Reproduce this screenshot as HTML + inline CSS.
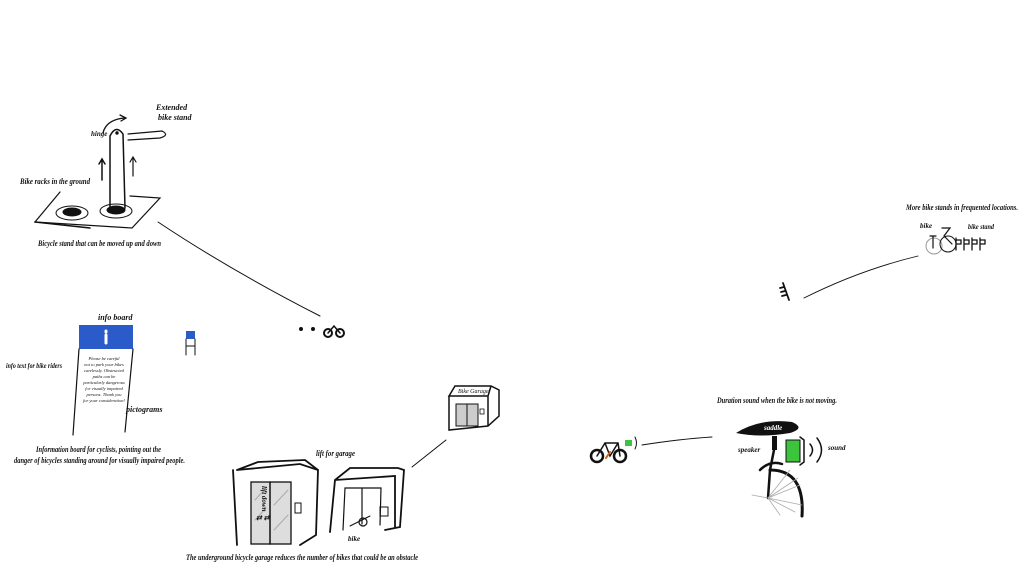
<!DOCTYPE html>
<html><head><meta charset="utf-8"><style>
html,body{margin:0;padding:0;background:#fff;width:1024px;height:576px;overflow:hidden}
svg text{font-family:"Liberation Serif",serif;font-style:italic;fill:#111;font-weight:bold}
</style></head><body>
<svg width="1024" height="576" viewBox="0 0 1024 576" xmlns="http://www.w3.org/2000/svg" fill="none" stroke="#111" stroke-linecap="round">
<!-- Bike stand sketch -->
<path d="M60 192 L35 222 L132 228 L160 198 L130 196" stroke-width="1.2"/>
<path d="M35 222 L90 228" stroke-width="1.5"/>
<ellipse cx="72" cy="213" rx="16" ry="7" stroke-width="1"/>
<ellipse cx="72" cy="212" rx="9" ry="4" fill="#111"/>
<ellipse cx="116" cy="211" rx="16" ry="7" stroke-width="1"/>
<ellipse cx="116" cy="210" rx="9" ry="4" fill="#111"/>
<path d="M110 210 L110 136 Q116 124 123 134 L125 208" stroke-width="1.5"/>
<path d="M128 134 L162 131 Q170 135 160 138 L128 140" stroke-width="1.2"/>
<circle cx="117" cy="133" r="1.2" fill="#111"/>
<path d="M103 133 Q106 120 124 118" stroke-width="1.3"/><path d="M120 115 L126 118 L121 121" stroke-width="1.3"/>
<path d="M102 180 L102 160 M99 164 L102 159 L105 164" stroke-width="1.5"/>
<path d="M133 176 L133 158 M130 162 L133 157 L136 162" stroke-width="1.2"/>
<text x="156" y="110" font-size="8" stroke="none">Extended</text>
<text x="158" y="120" font-size="8" stroke="none">bike stand</text>
<text x="91" y="136" font-size="7" stroke="none">hinge</text>
<text x="20" y="184" font-size="8" stroke="none" textLength="70" lengthAdjust="spacingAndGlyphs">Bike racks in the ground</text>
<text x="38" y="246" font-size="8.5" stroke="none" textLength="123" lengthAdjust="spacingAndGlyphs">Bicycle stand that can be moved up and down</text>
<path d="M158 222 Q230 270 320 316" stroke-width="1"/>
<!-- small bike + dots -->
<circle cx="301" cy="329" r="1.5" fill="#111"/><circle cx="313" cy="329" r="1.5" fill="#111"/>
<circle cx="328" cy="333" r="4" stroke-width="2"/><circle cx="340" cy="333" r="4" stroke-width="2"/><path d="M328 333 L334 326 L340 333" stroke-width="1.5"/>
<!-- Info board -->
<rect x="79" y="325" width="54" height="24" fill="#2a5bc8" stroke="none"/>
<path d="M106 331 v1 M106 335 v8" stroke="#fff" stroke-width="3"/>
<path d="M79 349 L73 435 M133 349 L125 432" stroke-width="1.2"/>
<text font-size="4.5" stroke="none" text-anchor="middle" font-style="normal" fill="#444" style="font-weight:normal">
<tspan x="104" y="360">Please be careful</tspan><tspan x="104" y="366">not to park your bikes</tspan><tspan x="104" y="372">carelessly. Obstructed</tspan><tspan x="104" y="378">paths can be</tspan><tspan x="104" y="384">particularly dangerous</tspan><tspan x="104" y="390">for visually impaired</tspan><tspan x="104" y="396">persons. Thank you</tspan><tspan x="104" y="402">for your consideration!</tspan></text>
<text x="98" y="320" font-size="8" stroke="none">info board</text>
<text x="6" y="368" font-size="7.5" stroke="none" textLength="56" lengthAdjust="spacingAndGlyphs">info text for bike riders</text>
<text x="126" y="412" font-size="8" stroke="none">pictograms</text>
<text x="36" y="452" font-size="8.5" stroke="none" textLength="125" lengthAdjust="spacingAndGlyphs">Information board for cyclists, pointing out the</text>
<text x="14" y="463" font-size="8.5" stroke="none" textLength="171" lengthAdjust="spacingAndGlyphs">danger of bicycles standing around for visually impaired people.</text>
<rect x="186" y="331" width="9" height="8" fill="#2a5bc8" stroke="none"/>
<path d="M186 339 v16 M195 339 v16 M186 346 h9" stroke-width="1"/>
<!-- Lifts -->
<path d="M233 470 L237 545 M237 470 L300 464 L318 470 L316 535 L300 545 M237 470 L258 462 L305 460 L318 470" stroke-width="1.8"/>
<rect x="251" y="482" width="40" height="62" fill="#ddd" stroke-width="1.3"/>
<path d="M270 482 v62" stroke-width="1.5"/>
<path d="M255 500 L266 488 M255 520 L266 508 M274 505 L288 490 M274 530 L288 515" stroke="#aaa" stroke-width="1"/>
<rect x="295" y="503" width="6" height="10" stroke-width="1"/>
<text x="256" y="520" font-size="7" stroke="none">⇄  ⇄</text>
<text x="262" y="486" font-size="7" stroke="none" transform="rotate(90 262 486)">lift down</text>
<path d="M330 532 L335 480 L350 468 L398 468 L404 470 L400 527 L385 530 M335 480 L395 476 L395 528" stroke-width="1.8"/>
<path d="M343 530 L345 488 L381 488 L380 525 M362 488 v36" stroke-width="1.2"/>
<rect x="380" y="507" width="8" height="9" stroke-width="1"/>
<circle cx="363" cy="522" r="4" stroke-width="1.2"/><path d="M350 526 L370 516" stroke-width="1"/>
<text x="316" y="456" font-size="8" stroke="none" textLength="39" lengthAdjust="spacingAndGlyphs">lift for garage</text>
<text x="348" y="541" font-size="7" stroke="none">bike</text>
<text x="186" y="560" font-size="8.5" stroke="none" textLength="232" lengthAdjust="spacingAndGlyphs">The underground bicycle garage reduces the number of bikes that could be an obstacle</text>
<path d="M412 467 L446 440" stroke-width="1"/>
<!-- Garage -->
<path d="M449 396 L449 430 L488 426 L499 416 L499 390 L491 386 L455 386 L449 396 L488 396 L491 386 M488 396 L488 426" stroke-width="1.5"/>
<rect x="456" y="404" width="22" height="22" fill="#ccc" stroke-width="1"/><path d="M467 404 v22" stroke-width="1"/>
<rect x="480" y="409" width="4" height="5" stroke-width="0.8"/>
<text x="458" y="393" font-size="6" stroke="none" font-style="normal" style="font-weight:normal">Bike Garage</text>
<!-- Sound bike -->
<circle cx="597" cy="456" r="6" stroke-width="2.5"/><circle cx="620" cy="456" r="6" stroke-width="2.5"/>
<path d="M597 456 L605 443 L618 443 L620 456 M605 443 L610 456 L618 443" stroke-width="1.5"/>
<path d="M606 458 L610 452" stroke="#d06020" stroke-width="2"/>
<rect x="625" y="440" width="7" height="6" fill="#3dc43d" stroke="none"/>
<path d="M635 437 Q638 443 635 449" stroke-width="1"/>
<path d="M642 445 Q680 439 712 437" stroke-width="0.9"/>
<path d="M736 433 Q760 418 792 422 Q806 428 790 433 Q760 438 736 433 Z" fill="#111" stroke="none"/>
<text x="764" y="430" font-size="7" stroke="none" style="fill:#fff">saddle</text>
<rect x="772" y="436" width="5" height="14" fill="#111" stroke="none"/>
<rect x="786" y="440" width="14" height="22" fill="#3dc43d" stroke="#111" stroke-width="1"/>
<path d="M800 437 L804 440 L804 462 L800 465" stroke-width="1.5"/>
<path d="M810 444 Q815 450 810 456 M817 438 Q826 450 817 462" stroke-width="1.5"/>
<path d="M774 450 L770 470 M760 470 Q770 460 782 464 M770 470 L768 498" stroke-width="2.5"/>
<path d="M770 470 Q805 470 802 516" stroke-width="3"/>
<path d="M768 498 L790 470 M768 498 L800 485 M768 498 L802 505 M768 498 L780 515 M768 498 L752 495 M768 498 L798 478 M768 498 L795 512" stroke="#aaa" stroke-width="0.8"/>
<text x="717" y="403" font-size="8" stroke="none" textLength="120" lengthAdjust="spacingAndGlyphs">Duration sound when the bike is not moving.</text>
<text x="738" y="452" font-size="7" stroke="none">speaker</text>
<text x="828" y="450" font-size="7" stroke="none">sound</text>
<!-- More stands -->
<text x="906" y="210" font-size="8" stroke="none" textLength="112" lengthAdjust="spacingAndGlyphs">More bike stands in frequented locations.</text>
<text x="920" y="228" font-size="7" stroke="none">bike</text>
<text x="968" y="229" font-size="7" stroke="none" textLength="26" lengthAdjust="spacingAndGlyphs">bike stand</text>
<circle cx="934" cy="246" r="8" stroke="#999" stroke-width="1"/><circle cx="948" cy="244" r="8" stroke-width="1"/>
<path d="M930 236 h6 M933 236 v12 M942 228 h8 L944 236 L952 244" stroke-width="1.2"/>
<g stroke-width="1.3">
<path d="M956 238 v12 M956 240 h5 v4 h-5"/>
<path d="M964 238 v12 M964 240 h5 v4 h-5"/>
<path d="M972 238 v12 M972 240 h5 v4 h-5"/>
<path d="M980 238 v12 M980 240 h5 v4 h-5"/>
</g>
<path d="M918 256 Q860 270 804 298" stroke-width="0.9"/>
<path d="M783 283 L789 300 M780 288 l4 -1 M781 292 l4 -1 M782 296 l4 -1" stroke-width="1.8"/>
</svg>
</body></html>
